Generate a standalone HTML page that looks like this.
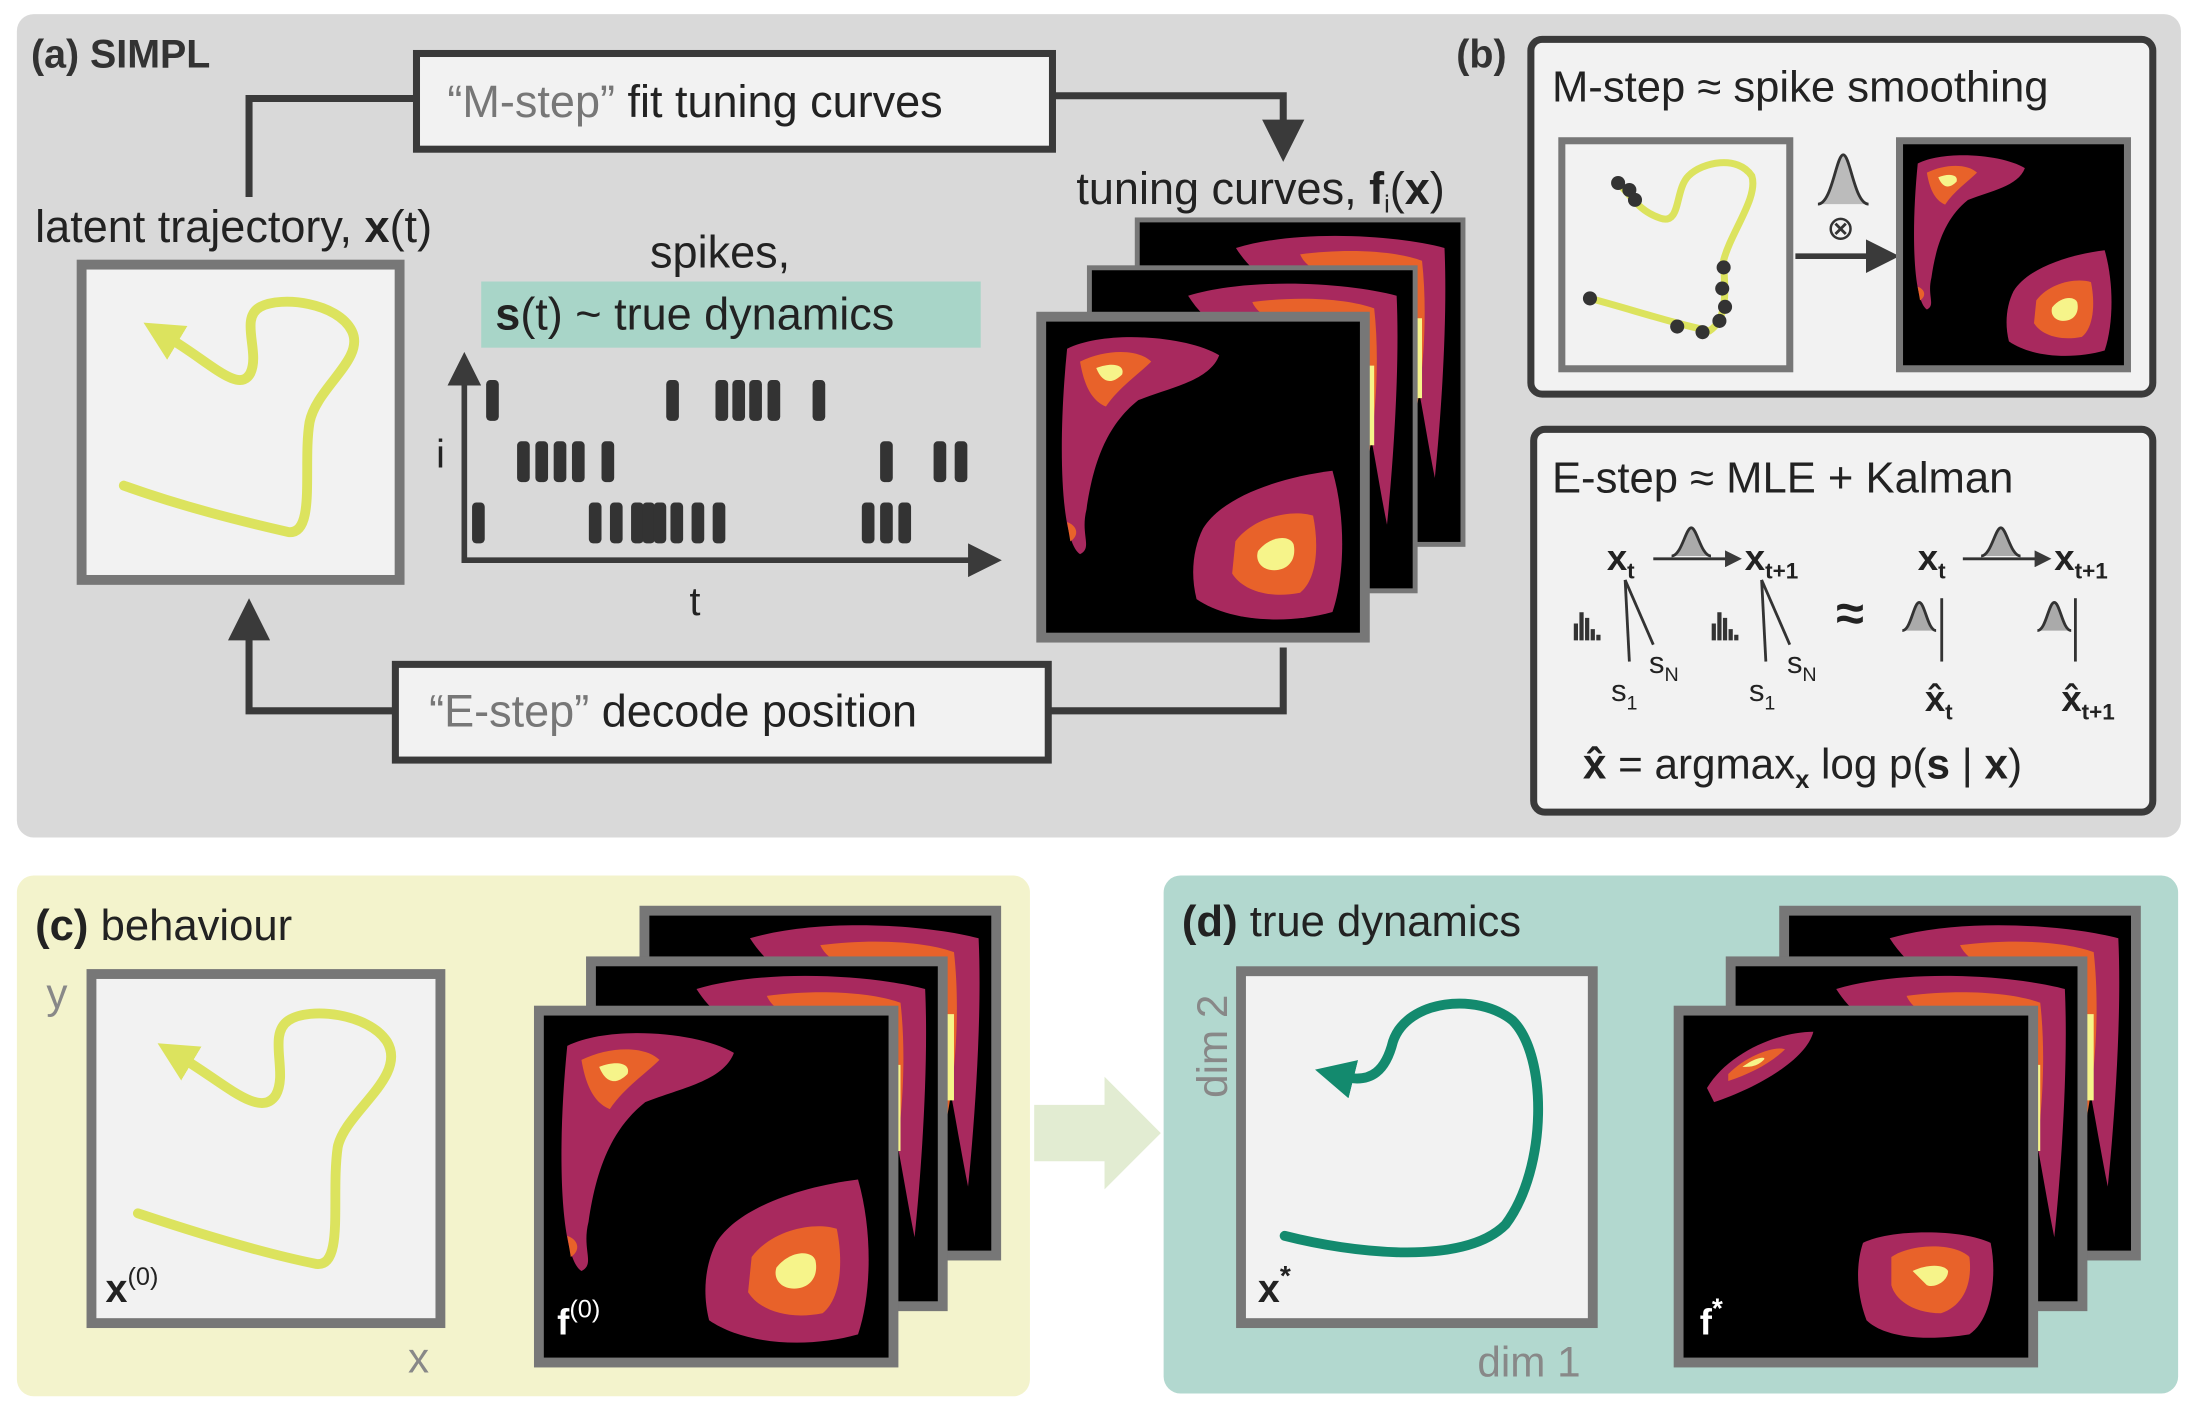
<!DOCTYPE html>
<html><head><meta charset="utf-8"><style>
html,body{margin:0;padding:0;background:#fff;}
svg{display:block;font-family:"Liberation Sans",sans-serif;}
</style></head><body>
<svg id="fig" width="2195" height="1416" viewBox="0 0 1560 1006" preserveAspectRatio="none" xmlns="http://www.w3.org/2000/svg">
<defs>
<marker id="ah" markerWidth="6" markerHeight="6" refX="3" refY="3" orient="auto" markerUnits="strokeWidth"><path d="M0,0 L6,3 L0,6 z" fill="#3a3a3a"/></marker>
<marker id="ahy" markerWidth="4" markerHeight="4" refX="1" refY="2" orient="auto" markerUnits="strokeWidth"><path d="M0,0 L4,2 L0,4 z" fill="#dce35e"/></marker>
<marker id="ahg" markerWidth="4" markerHeight="4" refX="1" refY="2" orient="auto" markerUnits="strokeWidth"><path d="M0,0 L4,2 L0,4 z" fill="#138a6e"/></marker>
<g id="hm">
 <rect x="0" y="0" width="100" height="100" fill="#000"/>
 <path d="M8,10 C20,4 45,6 55,12 C52,20 40,22 30,26 C20,34 16,46 14,60 C12,68 16,72 12,74 C6,70 5,40 8,10 Z" fill="#a8295e"/>
 <path d="M12,14 C20,10 30,10 34,14 C30,18 24,22 20,28 C15,26 13,20 12,14 Z" fill="#e8622a"/>
 <path d="M17,16 C22,14 26,15 25,18 C22,21 19,21 17,16 Z" fill="#f6f48a"/>
 <path d="M8,64 C11,65 12,68 9,70 Z" fill="#e8622a"/>
 <path d="M50,66 C56,56 74,50 90,48 C94,62 94,80 90,92 C76,96 58,95 48,88 C46,80 47,72 50,66 Z" fill="#a8295e"/>
 <path d="M60,70 C66,62 78,60 84,62 C86,72 85,82 80,86 C70,88 62,85 59,80 Z" fill="#e8622a"/>
 <path d="M67,73 C71,68 77,68 78,71 C79,76 76,79 72,79 C68,79 66,76 67,73 Z" fill="#f6f48a"/>
</g>
<g id="hmback">
 <rect x="0" y="0" width="100" height="100" fill="#000"/>
 <path d="M30,8 C50,2 80,4 95,8 C96,30 94,60 92,80 C88,60 86,40 80,30 C60,28 40,24 30,8 Z" fill="#a8295e"/>
 <path d="M50,10 C65,8 80,9 88,12 C90,30 88,50 86,60 C84,40 80,25 70,20 C60,18 52,15 50,10 Z" fill="#e8622a"/>
 <path d="M84,30 L88,30 L88,55 L84,55 Z" fill="#f6f48a"/>
</g>
<g id="hmd">
 <rect x="0" y="0" width="100" height="100" fill="#000"/>
 <path d="M8,22 C14,12 28,6 38,6 C36,14 22,22 10,26 Z" fill="#a8295e"/>
 <path d="M14,18 C20,12 28,10 30,11 C26,15 20,18 14,20 Z" fill="#e8622a"/>
 <path d="M18,16 C22,13 25,13 24,14 C22,16 20,16 18,16 Z" fill="#f6f48a"/>
 <path d="M52,66 C60,62 80,62 88,66 C90,76 88,88 82,92 C70,94 58,93 53,88 C50,80 50,72 52,66 Z" fill="#a8295e"/>
 <path d="M60,70 C66,66 78,66 82,70 C83,78 80,84 74,86 C66,86 61,82 60,78 Z" fill="#e8622a"/>
 <path d="M66,74 C70,72 75,72 76,74 C76,77 72,79 70,78 Z" fill="#f6f48a"/>
</g>
</defs>

<!-- Panel a -->
<rect x="12" y="10" width="1538" height="585" rx="12" fill="#d9d9d9"/>
<text x="22" y="48" font-size="28" font-weight="bold" fill="#333">(a) SIMPL</text>

<polyline points="295,70 177,70 177,140" fill="none" stroke="#3a3a3a" stroke-width="5"/>
<polyline points="748,68 912,68 912,100" fill="none" stroke="#3a3a3a" stroke-width="5" marker-end="url(#ah)"/>
<rect x="296" y="38" width="452" height="68" fill="#f2f2f2" stroke="#3a3a3a" stroke-width="5"/>
<text x="318" y="83" font-size="32" fill="#222"><tspan fill="#777">“M-step”</tspan> fit tuning curves</text>

<text x="25" y="172" font-size="32" fill="#222">latent trajectory, <tspan font-weight="bold">x</tspan>(t)</text>
<rect x="58" y="188" width="226" height="224" fill="#f2f2f2" stroke="#777" stroke-width="7"/>
<path d="M88,345 C130,360 170,370 205,378 C225,380 215,330 220,300 C225,275 260,255 250,235 C240,215 200,210 185,218 C170,226 185,250 178,265 C170,280 150,258 120,240" fill="none" stroke="#dce35e" stroke-width="7" stroke-linecap="round" marker-end="url(#ahy)"/>

<text x="462" y="190" font-size="32" fill="#222">spikes,</text>
<rect x="342" y="200" width="355" height="47" fill="#a8d5c8"/>
<text x="352" y="234" font-size="32" fill="#222"><tspan font-weight="bold">s</tspan>(t) ~  true dynamics</text>

<line x1="330" y1="400" x2="330" y2="262" stroke="#3a3a3a" stroke-width="4" marker-end="url(#ah)"/>
<line x1="328" y1="398" x2="700" y2="398" stroke="#3a3a3a" stroke-width="4" marker-end="url(#ah)"/>
<text x="310" y="332" font-size="28" fill="#222">i</text>
<text x="490" y="437" font-size="28" fill="#222">t</text>
<g id="spikes"></g>

<rect x="810" y="158" width="228" height="227" fill="#000" stroke="#777" stroke-width="7"/>
<use href="#hmback" transform="translate(810,158) scale(2.28,2.27)"/>
<rect x="776" y="192" width="228" height="226" fill="#000" stroke="#777" stroke-width="7"/>
<use href="#hmback" transform="translate(776,192) scale(2.28,2.26)"/>
<use href="#hm" transform="translate(740,225) scale(2.3,2.28)"/>
<rect x="740" y="225" width="230" height="228" fill="none" stroke="#777" stroke-width="7"/>
<text x="765" y="145" font-size="32" fill="#222">tuning curves, <tspan font-weight="bold">f</tspan><tspan font-size="18" dy="6">i</tspan><tspan dy="-6">(</tspan><tspan font-weight="bold">x</tspan>)</text>

<polyline points="280,505 177,505 177,440" fill="none" stroke="#3a3a3a" stroke-width="5" marker-end="url(#ah)"/>
<polyline points="745,505 912,505 912,460" fill="none" stroke="#3a3a3a" stroke-width="5"/>
<rect x="281" y="472" width="464" height="68" fill="#f2f2f2" stroke="#3a3a3a" stroke-width="5"/>
<text x="305" y="516" font-size="32" fill="#222"><tspan fill="#777">“E-step”</tspan> decode position</text>

<!-- Panel b -->
<text x="1035" y="48" font-size="28" font-weight="bold" fill="#333">(b)</text>
<rect x="1088" y="28" width="442" height="252" rx="8" fill="#f2f2f2" stroke="#3a3a3a" stroke-width="5"/>
<text x="1103" y="72" font-size="31" fill="#222">M-step ≈ spike smoothing</text>
<rect x="1110" y="100" width="162" height="162" fill="#f2f2f2" stroke="#777" stroke-width="5"/>
<path d="M1130,212 C1160,220 1190,230 1215,235 C1230,225 1225,200 1225,185 C1230,165 1250,140 1245,125 C1235,110 1210,115 1200,125 C1190,135 1195,160 1180,155 C1165,150 1160,140 1150,130" fill="none" stroke="#dce35e" stroke-width="5"/>
<g fill="#333">
<circle cx="1130" cy="212" r="5"/><circle cx="1192" cy="232" r="5"/><circle cx="1210" cy="236" r="5"/><circle cx="1222" cy="228" r="5"/><circle cx="1226" cy="218" r="5"/><circle cx="1224" cy="205" r="5"/><circle cx="1225" cy="190" r="5"/><circle cx="1150" cy="130" r="5"/><circle cx="1158" cy="135" r="5"/><circle cx="1162" cy="142" r="5"/></g>
<path d="M1292,145 C1302,145 1305,110 1310,110 C1315,110 1318,145 1328,145" fill="#bbb" stroke="#333" stroke-width="2"/>
<text x="1298" y="170" font-size="24" fill="#333">⊗</text>
<line x1="1276" y1="182" x2="1338" y2="182" stroke="#3a3a3a" stroke-width="4" marker-end="url(#ah)"/>
<use href="#hm" transform="translate(1350,100) scale(1.62,1.62)"/>
<rect x="1350" y="100" width="162" height="162" fill="none" stroke="#777" stroke-width="5"/>

<rect x="1090" y="305" width="440" height="272" rx="8" fill="#f2f2f2" stroke="#3a3a3a" stroke-width="5"/>
<text x="1103" y="350" font-size="31" fill="#222">E-step ≈  MLE + Kalman</text>
<g fill="#222" font-size="26" font-weight="bold">
<text x="1142" y="405">x<tspan font-size="16" dy="6">t</tspan></text>
<text x="1240" y="405">x<tspan font-size="16" dy="6">t+1</tspan></text>
<text x="1363" y="405">x<tspan font-size="16" dy="6">t</tspan></text>
<text x="1460" y="405">x<tspan font-size="16" dy="6">t+1</tspan></text>
<text x="1305" y="448" font-size="36">≈</text>
<text x="1368" y="505">x̂<tspan font-size="16" dy="6">t</tspan></text>
<text x="1465" y="505">x̂<tspan font-size="16" dy="6">t+1</tspan></text>
<text x="1145" y="498" font-weight="normal" font-size="22">s<tspan font-size="14" dy="6">1</tspan></text>
<text x="1172" y="478" font-weight="normal" font-size="22">s<tspan font-size="14" dy="6">N</tspan></text>
<text x="1243" y="498" font-weight="normal" font-size="22">s<tspan font-size="14" dy="6">1</tspan></text>
<text x="1270" y="478" font-weight="normal" font-size="22">s<tspan font-size="14" dy="6">N</tspan></text>
</g>
<g stroke="#333" stroke-width="2" fill="none">
<line x1="1175" y1="397" x2="1232" y2="397" marker-end="url(#ah)"/>
<line x1="1395" y1="397" x2="1452" y2="397" marker-end="url(#ah)"/>
<line x1="1155" y1="412" x2="1158" y2="470"/><line x1="1155" y1="412" x2="1175" y2="458"/>
<line x1="1252" y1="412" x2="1255" y2="470"/><line x1="1252" y1="412" x2="1272" y2="458"/>
<line x1="1380" y1="425" x2="1380" y2="470"/><line x1="1475" y1="425" x2="1475" y2="470"/>
<path d="M1188,395 C1195,395 1198,375 1202,375 C1206,375 1209,395 1216,395" fill="#aaa"/>
<path d="M1408,395 C1415,395 1418,375 1422,375 C1426,375 1429,395 1436,395" fill="#aaa"/>
<path d="M1352,448 C1358,448 1360,428 1364,428 C1368,428 1370,448 1376,448" fill="#aaa"/>
<path d="M1448,448 C1454,448 1456,428 1460,428 C1464,428 1466,448 1472,448" fill="#aaa"/>
<path d="M1120,455 v-12 M1124,455 v-20 M1128,455 v-16 M1132,455 v-8 M1136,455 v-4" stroke-width="3"/>
<path d="M1218,455 v-12 M1222,455 v-20 M1226,455 v-16 M1230,455 v-8 M1234,455 v-4" stroke-width="3"/>
</g>
<text x="1125" y="553" font-size="30" fill="#222"><tspan font-weight="bold">x̂</tspan> = argmax<tspan font-size="18" dy="7" font-weight="bold">x</tspan><tspan dy="-7"> log p(</tspan><tspan font-weight="bold">s</tspan> | <tspan font-weight="bold">x</tspan>)</text>

<!-- Panel c -->
<rect x="12" y="622" width="720" height="370" rx="12" fill="#f3f3cc"/>
<text x="25" y="668" font-size="31" fill="#222"><tspan font-weight="bold">(c)</tspan>  behaviour</text>
<text x="33" y="716" font-size="30" fill="#888">y</text>
<text x="290" y="975" font-size="30" fill="#888">x</text>
<rect x="65" y="692" width="248" height="248" fill="#f2f2f2" stroke="#777" stroke-width="7"/>
<path d="M98,862 C140,876 185,890 225,898 C245,900 235,850 240,815 C245,790 290,765 275,740 C262,720 220,715 205,725 C190,735 205,762 196,778 C185,795 160,770 130,752" fill="none" stroke="#dce35e" stroke-width="7" stroke-linecap="round" marker-end="url(#ahy)"/>
<text x="75" y="925" font-size="28" font-weight="bold" fill="#222">x<tspan font-size="18" dy="-12" font-weight="normal">(0)</tspan></text>
<use href="#hmback" transform="translate(458,647) scale(2.5,2.45)"/>
<rect x="458" y="647" width="250" height="245" fill="none" stroke="#777" stroke-width="7"/>
<use href="#hmback" transform="translate(420,683) scale(2.5,2.45)"/>
<rect x="420" y="683" width="250" height="245" fill="none" stroke="#777" stroke-width="7"/>
<use href="#hm" transform="translate(383,718) scale(2.52,2.5)"/>
<rect x="383" y="718" width="252" height="250" fill="none" stroke="#777" stroke-width="7"/>
<text x="396" y="948" font-size="26" font-weight="bold" fill="#fff">f<tspan font-size="18" dy="-12" font-weight="normal">(0)</tspan></text>

<path d="M735,785 L785,785 L785,765 L825,805 L785,845 L785,825 L735,825 Z" fill="#e2ecd2"/>

<!-- Panel d -->
<rect x="827" y="622" width="721" height="368" rx="12" fill="#b2d8cf"/>
<text x="840" y="665" font-size="31" fill="#222"><tspan font-weight="bold">(d)</tspan>  true dynamics</text>
<text transform="translate(872,780) rotate(-90)" font-size="30" fill="#888">dim 2</text>
<text x="1050" y="978" font-size="30" fill="#888">dim 1</text>
<rect x="882" y="690" width="250" height="250" fill="#f2f2f2" stroke="#777" stroke-width="7"/>
<path d="M913,878 C960,890 1040,900 1070,870 C1100,830 1100,750 1075,725 C1050,705 1000,710 990,740 C985,760 975,770 955,765" fill="none" stroke="#138a6e" stroke-width="7" stroke-linecap="round" marker-end="url(#ahg)"/>
<text x="894" y="925" font-size="28" font-weight="bold" fill="#222">x<tspan font-size="20" dy="-12">*</tspan></text>
<use href="#hmback" transform="translate(1268,647) scale(2.5,2.45)"/>
<rect x="1268" y="647" width="250" height="245" fill="none" stroke="#777" stroke-width="7"/>
<use href="#hmback" transform="translate(1230,683) scale(2.5,2.45)"/>
<rect x="1230" y="683" width="250" height="245" fill="none" stroke="#777" stroke-width="7"/>
<use href="#hmd" transform="translate(1193,718) scale(2.52,2.5)"/>
<rect x="1193" y="718" width="252" height="250" fill="none" stroke="#777" stroke-width="7"/>
<text x="1208" y="948" font-size="26" font-weight="bold" fill="#fff">f<tspan font-size="20" dy="-12">*</tspan></text>
</svg>
<script>
const spikeTimesRow1 = [350, 478, 513, 525, 537, 550, 582];
const spikeTimesRow2 = [372, 385, 398, 411, 432, 630, 668, 683];
const spikeTimesRow3 = [340, 423, 438, 453, 461, 469, 481, 496, 511, 617, 630, 643];
const spikeRows = [spikeTimesRow1, spikeTimesRow2, spikeTimesRow3];
const rowY = i => 270 + i * 43.5;
const tX = t => t;
const g = document.getElementById('spikes');
spikeRows.forEach((row, i) => {
  row.forEach(t => {
    const r = document.createElementNS('http://www.w3.org/2000/svg', 'rect');
    r.setAttribute('x', tX(t) - 4.5);
    r.setAttribute('y', rowY(i));
    r.setAttribute('width', 9);
    r.setAttribute('height', 29);
    r.setAttribute('rx', 3);
    r.setAttribute('fill', '#333');
    
    
    g.appendChild(r);
  });
});
</script>
</body></html>
